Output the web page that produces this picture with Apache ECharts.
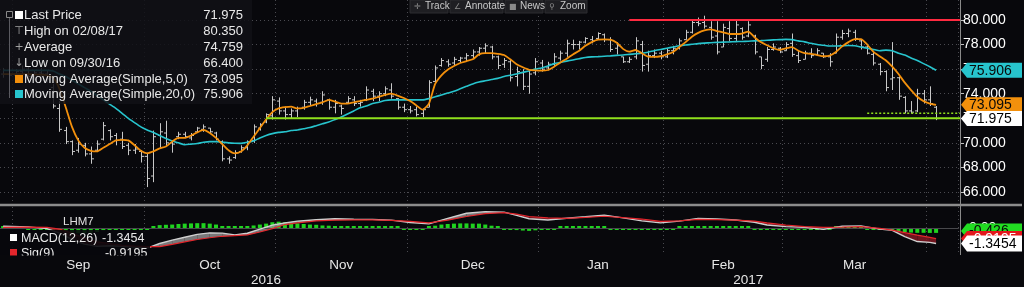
<!DOCTYPE html>
<html>
<head>
<meta charset="utf-8">
<script src="https://cdn.jsdelivr.net/npm/echarts@6/dist/echarts.min.js"></script>
<style>
html, body { margin: 0; padding: 0; background: #08080c; }
#chart { width: 1024px; height: 287px; }
</style>
</head>
<body>
<div id="chart"></div>
<script>
// trading days per month (the last three April days are empty room on the right)
const tradingDays = [
  ['2016-08', [29, 30, 31]],
  ['2016-09', [1, 2, 6, 7, 8, 9, 12, 13, 14, 15, 16, 19, 20, 21, 22, 23, 26, 27, 28, 29, 30]],
  ['2016-10', [3, 4, 5, 6, 7, 10, 11, 12, 13, 14, 17, 18, 19, 20, 21, 24, 25, 26, 27, 28, 31]],
  ['2016-11', [1, 2, 3, 4, 7, 8, 9, 10, 11, 14, 15, 16, 17, 18, 21, 22, 23, 25, 28, 29, 30]],
  ['2016-12', [1, 2, 5, 6, 7, 8, 9, 12, 13, 14, 15, 16, 19, 20, 21, 22, 23, 27, 28, 29, 30]],
  ['2017-01', [3, 4, 5, 6, 9, 10, 11, 12, 13, 17, 18, 19, 20, 23, 24, 25, 26, 27, 30, 31]],
  ['2017-02', [1, 2, 3, 6, 7, 8, 9, 10, 13, 14, 15, 16, 17, 21, 22, 23, 24, 27, 28]],
  ['2017-03', [1, 2, 3, 6, 7, 8, 9, 10, 13, 14, 15, 16, 17, 20, 21, 22, 23, 24, 27, 28, 29, 30, 31]],
  ['2017-04', [3, 4, 5, 6]]
];
const monthNames = ['Sep', 'Oct', 'Nov', 'Dec', 'Jan', 'Feb', 'Mar'];
const yearNames = ['2016', '2017'];

// LHM7 daily bars: [open, high, low, close]
const ohlc = [
  [75.6, 76.1, 75.3, 75.9], [75.9, 76.2, 75.4, 75.5], [75.5, 76.0, 75.2, 75.8], [75.8, 76.3, 75.5, 76.0],
  [76.0, 76.2, 75.3, 75.4], [75.4, 75.9, 75.1, 75.7], [75.7, 76.1, 75.4, 75.6], [75.6, 75.9, 74.9, 75.2],
  [74.5, 74.8, 72.8, 73.0], [72.8, 73.4, 70.9, 71.1], [71.0, 71.3, 69.9, 70.1], [70.1, 70.2, 69.0, 69.3],
  [69.4, 70.4, 69.2, 69.9], [69.8, 70.0, 68.9, 69.1], [69.1, 69.7, 68.3, 68.7], [69.4, 70.2, 69.3, 69.9],
  [70.3, 71.7, 70.2, 71.4], [71.0, 71.1, 70.2, 70.5], [70.6, 70.8, 69.8, 70.2], [70.3, 70.9, 69.5, 69.7],
  [69.8, 70.0, 69.0, 69.4], [69.4, 69.9, 69.1, 69.5], [69.3, 69.4, 68.4, 68.9], [68.9, 69.2, 66.4, 67.1],
  [67.3, 71.0, 66.8, 70.5], [70.6, 71.6, 69.6, 70.9], [70.8, 71.8, 69.7, 70.0], [70.0, 70.2, 69.2, 69.9],
  [70.5, 70.9, 70.3, 70.7], [70.7, 70.9, 70.4, 70.5], [70.4, 70.8, 70.2, 70.6], [70.9, 71.3, 70.8, 71.2],
  [71.1, 71.5, 70.9, 71.3], [71.2, 71.2, 70.8, 70.9], [70.8, 70.9, 70.2, 70.3], [70.1, 70.2, 68.5, 68.7],
  [68.7, 68.9, 68.3, 68.6], [68.8, 69.4, 68.7, 69.2], [69.3, 69.8, 69.2, 69.6], [69.6, 70.2, 69.4, 70.1],
  [70.2, 71.5, 70.0, 71.3], [71.2, 71.6, 71.0, 71.5], [71.7, 72.4, 71.6, 72.3], [72.2, 73.8, 71.9, 73.5],
  [73.4, 73.7, 72.3, 72.6], [72.6, 72.95, 71.9, 72.3], [72.3, 72.8, 72.0, 72.6], [72.6, 72.95, 72.1, 72.8],
  [72.9, 73.5, 72.7, 73.3], [73.3, 73.76, 73.0, 73.5], [73.4, 73.6, 72.95, 73.2], [73.3, 74.2, 73.1, 73.9],
  [73.5, 73.6, 72.7, 72.9], [72.9, 73.5, 72.4, 73.2], [73.0, 73.1, 72.3, 72.8], [73.3, 73.8, 73.2, 73.6],
  [73.5, 73.8, 73.0, 73.2], [73.2, 73.5, 72.95, 73.3], [73.5, 74.6, 73.4, 74.3], [74.2, 74.4, 73.4, 73.8],
  [73.8, 74.2, 73.4, 74.0], [74.0, 74.6, 73.8, 74.4], [74.3, 74.85, 73.6, 73.8], [73.6, 73.63, 72.7, 72.9],
  [72.9, 73.2, 72.5, 72.7], [72.7, 73.0, 72.4, 72.6], [72.7, 72.95, 72.15, 72.3], [72.4, 72.8, 72.1, 72.7],
  [72.9, 75.1, 72.9, 74.9], [75.0, 76.3, 74.95, 76.1], [76.3, 76.9, 76.2, 76.7], [76.6, 76.8, 76.2, 76.4],
  [76.5, 77.0, 76.3, 76.8], [76.7, 77.0, 76.5, 76.9], [76.9, 77.3, 76.6, 77.1], [77.1, 77.6, 76.9, 77.4],
  [77.4, 77.8, 77.1, 77.7], [77.7, 78.1, 77.3, 77.9], [77.8, 77.9, 76.8, 77.0], [77.0, 77.1, 76.0, 76.3],
  [76.4, 76.9, 76.1, 76.7], [76.6, 76.75, 75.0, 75.3], [75.4, 76.2, 74.6, 75.8], [75.7, 76.0, 74.3, 74.6],
  [74.6, 75.9, 74.0, 75.6], [75.7, 76.9, 75.5, 76.6], [76.5, 76.75, 75.8, 76.0], [76.1, 76.6, 75.9, 76.4],
  [76.4, 77.3, 76.2, 77.0], [76.9, 77.5, 76.7, 77.3], [77.3, 78.4, 77.0, 78.1], [78.0, 78.4, 77.6, 78.0],
  [78.0, 78.3, 77.6, 78.2], [78.2, 78.6, 78.1, 78.5], [78.4, 78.7, 78.1, 78.3], [78.5, 79.0, 78.4, 78.9],
  [78.8, 78.9, 78.2, 78.4], [78.4, 78.6, 77.4, 77.6], [77.7, 78.2, 77.2, 77.9], [77.0, 77.0, 76.5, 76.6],
  [76.6, 77.0, 76.5, 76.8], [77.0, 78.6, 76.8, 78.3], [78.0, 78.3, 75.8, 76.3], [76.4, 77.5, 75.8, 77.1],
  [77.1, 77.6, 76.9, 77.3], [77.3, 77.5, 76.8, 77.0], [77.0, 77.7, 76.9, 77.5], [77.5, 77.9, 77.2, 77.7],
  [77.7, 78.5, 77.6, 78.3], [78.4, 79.2, 78.4, 79.0], [79.0, 80.0, 78.9, 79.8], [79.8, 80.2, 79.5, 79.7],
  [79.8, 80.35, 79.3, 79.5], [79.4, 79.9, 78.4, 78.6], [78.7, 79.9, 77.2, 77.4], [77.8, 79.7, 77.8, 79.4],
  [79.3, 79.9, 78.3, 78.5], [78.5, 80.0, 78.3, 79.6], [79.3, 79.4, 78.4, 78.6], [78.7, 79.9, 78.6, 79.6],
  [78.7, 78.8, 77.2, 77.4], [77.0, 77.0, 76.0, 76.3], [76.8, 77.8, 76.6, 77.6], [77.6, 78.1, 77.5, 77.8],
  [77.7, 77.8, 77.3, 77.4], [77.5, 78.2, 77.5, 78.0], [78.1, 78.9, 77.0, 77.2], [77.1, 77.5, 76.5, 76.7],
  [76.8, 77.5, 76.8, 77.3], [77.3, 77.7, 76.9, 77.1], [77.2, 77.7, 77.15, 77.5], [77.3, 77.3, 76.9, 77.0],
  [77.0, 77.3, 76.2, 76.6], [77.3, 78.9, 77.3, 78.6], [78.6, 79.2, 78.4, 78.9], [78.9, 79.3, 78.6, 79.1],
  [79.0, 79.2, 78.3, 78.5], [78.3, 78.4, 77.6, 77.8], [77.8, 78.0, 77.2, 77.3], [77.2, 77.5, 76.3, 76.5],
  [76.4, 76.5, 75.5, 75.8], [75.8, 75.9, 74.2, 74.5], [75.2, 78.2, 74.3, 75.3], [75.3, 75.4, 73.5, 73.8],
  [73.7, 73.8, 72.4, 72.6], [72.6, 73.4, 72.4, 72.5], [72.6, 74.4, 72.5, 74.0], [74.0, 74.3, 73.2, 73.5],
  [73.5, 74.6, 73.0, 73.2], [72.9, 73.0, 71.85, 71.975]
];

// Moving Average(Simple,5,0), one value per bar
const ma5 = [
  75.6, 75.6, 75.6, 75.6, 75.6, 75.55, 75.55, 75.5, 75.3, 74.4,
  72.9, 71.3, 70.2, 69.6, 69.35, 69.3, 69.6, 69.9, 70.2, 70.25,
  70.2, 69.8, 69.35, 69.15, 69.3, 69.55, 69.7, 70.1, 70.4, 70.4,
  70.6, 70.85, 71.05, 70.8, 70.4, 69.9, 69.4, 69.15, 69.3, 69.8,
  70.5, 71.2, 71.9, 72.5, 72.8, 72.9, 72.95, 72.8, 72.85, 73.0,
  73.15, 73.3, 73.5, 73.35, 73.2, 73.2, 73.3, 73.4, 73.5, 73.6,
  73.75, 73.9, 74.0, 73.85, 73.65, 73.4, 73.05, 72.7, 73.2, 74.8,
  75.5, 75.95, 76.25, 76.5, 76.65, 76.8, 77.2, 77.3, 77.3, 77.25,
  77.15, 76.8, 76.4, 76.15, 75.95, 75.9, 75.88, 75.93, 76.2, 76.55,
  76.85, 77.2, 77.5, 77.9, 78.2, 78.4, 78.43, 78.4, 78.15, 77.65,
  77.42, 77.56, 77.3, 77.02, 77.0, 77.05, 77.2, 77.4, 77.8, 78.2,
  78.64, 78.95, 79.15, 79.24, 79.1, 79.0, 78.86, 78.86, 78.9, 79.05,
  78.6, 78.2, 77.95, 77.7, 77.56, 77.7, 77.8, 77.5, 77.3, 77.25,
  77.15, 77.05, 77.1, 77.4, 77.85, 78.2, 78.45, 78.45, 78.0, 77.4,
  77.05, 76.7, 76.2, 75.6, 74.9, 74.3, 73.75, 73.4, 73.2, 73.095
];

// Moving Average(Simple,20,0), one value per bar
const ma20 = [
  75.9, 75.9, 75.9, 75.9, 75.9, 75.9, 75.9, 75.9, 75.85, 75.6,
  75.4, 75.1, 74.8, 74.5, 74.2, 73.85, 73.5, 73.15, 72.8, 72.4,
  72.0, 71.65, 71.3, 71.05, 70.85, 70.6, 70.35, 70.15, 70.0, 69.85,
  69.9, 69.95, 70.05, 70.1, 70.1, 70.05, 70.0, 69.97, 69.96, 70.05,
  70.15, 70.4, 70.6, 70.75, 70.85, 70.9, 71.0, 71.05, 71.15, 71.25,
  71.4, 71.55, 71.7, 71.9, 72.1, 72.35, 72.6, 72.85, 73.0, 73.2,
  73.3, 73.45, 73.5, 73.5, 73.5, 73.5, 73.5, 73.5, 73.6, 73.75,
  73.9, 74.05, 74.2, 74.4, 74.6, 74.8, 74.95, 75.05, 75.15, 75.25,
  75.4, 75.5, 75.6, 75.75, 75.85, 76.0, 76.1, 76.25, 76.45, 76.55,
  76.65, 76.75, 76.85, 76.95, 77.0, 77.02, 77.05, 77.08, 77.12, 77.15,
  77.2, 77.25, 77.3, 77.38, 77.5, 77.6, 77.7, 77.8, 77.9, 77.97,
  78.02, 78.08, 78.12, 78.15, 78.18, 78.2, 78.22, 78.24, 78.25, 78.27,
  78.3, 78.32, 78.35, 78.38, 78.4, 78.42, 78.4, 78.3, 78.22, 78.1,
  78.0, 77.95, 77.88, 77.88, 77.9, 77.92, 77.9, 77.8, 77.7, 77.6,
  77.5, 77.55, 77.5, 77.3, 77.15, 76.9, 76.7, 76.45, 76.2, 75.906
];

// MACD(12,26) and Sig(9), read at these bars
const macdIdx = [0, 4, 7, 9, 11, 13, 15, 17, 19, 21, 23, 25, 27, 29, 31, 33, 35, 37, 39, 41,
  43, 45, 47, 50, 53, 56, 59, 62, 65, 68, 71, 74, 77, 80, 82, 84, 87, 90, 93, 96,
  99, 102, 105, 108, 111, 114, 117, 120, 122, 125, 128, 131, 134, 137, 140, 142, 144, 146, 148, 149];
const macdLine = [0.15, 0.1, -0.05, -0.45, -1.0, -1.4, -1.6, -1.55, -1.6, -1.65,
  -1.75, -1.35, -1.05, -0.8, -0.55, -0.42, -0.45, -0.6, -0.46, -0.1,
  0.25, 0.45, 0.6, 0.72, 0.8, 0.76, 0.75, 0.68, 0.48, 0.36,
  0.84, 1.28, 1.42, 1.38, 1.1, 0.8, 0.7, 0.85, 0.98, 1.12,
  0.88, 0.62, 0.45, 0.6, 0.84, 0.78, 0.7, 0.5, 0.26, 0.12,
  0.05, -0.12, 0.15, 0.17, -0.1, -0.2, -0.75, -1.18, -1.25, -1.3454];
const sigLine = [0.05, 0.08, 0.05, -0.1, -0.45, -0.9, -1.2, -1.35, -1.5, -1.57,
  -1.62, -1.62, -1.42, -1.2, -1.0, -0.85, -0.72, -0.66, -0.6, -0.35,
  -0.05, 0.3, 0.45, 0.62, 0.68, 0.7, 0.7, 0.66, 0.58, 0.45,
  0.68, 1.0, 1.25, 1.33, 1.2, 1.0, 0.88, 0.84, 0.92, 1.02,
  0.9, 0.78, 0.58, 0.62, 0.75, 0.72, 0.68, 0.6, 0.45, 0.26,
  0.12, 0.06, 0.08, 0.12, -0.03, -0.18, -0.4, -0.62, -0.82, -0.9195];
// MACD histogram, one value per bar
const macdHist = [
  0.05, 0.04, 0.02, 0.0, -0.02, -0.03, -0.05, -0.08, -0.15, -0.25,
  -0.35, -0.42, -0.45, -0.45, -0.42, -0.35, -0.2, -0.12, -0.08, -0.06,
  -0.05, -0.06, -0.08, -0.12, 0.12, 0.25, 0.28, 0.3, 0.35, 0.38,
  0.4, 0.42, 0.42, 0.38, 0.3, 0.15, 0.05, 0.03, 0.05, 0.12,
  0.22, 0.3, 0.38, 0.5, 0.55, 0.5, 0.45, 0.4, 0.35, 0.3,
  0.28, 0.22, 0.2, 0.12, 0.06, 0.05, 0.04, 0.05, 0.05, 0.05,
  0.04, 0.04, 0.03, 0.0, -0.05, -0.12, -0.15, -0.12, 0.05, 0.2,
  0.3, 0.35, 0.38, 0.4, 0.4, 0.38, 0.38, 0.3, 0.2, 0.08,
  -0.04, -0.12, -0.18, -0.22, -0.25, -0.2, -0.12, -0.06, -0.03, 0.02,
  0.05, 0.08, 0.1, 0.1, 0.08, 0.06, 0.02, -0.05, -0.1, -0.15,
  -0.15, -0.12, -0.12, -0.12, -0.12, -0.1, -0.08, -0.04, 0.0, 0.05,
  0.12, 0.15, 0.15, 0.12, 0.06, 0.05, 0.03, 0.02, 0.02, 0.02,
  -0.05, -0.12, -0.14, -0.16, -0.14, -0.12, -0.1, -0.1, -0.1, -0.08,
  -0.07, -0.06, -0.05, 0.02, 0.06, 0.08, 0.08, 0.04, -0.02, -0.06,
  -0.1, -0.15, -0.2, -0.28, -0.35, -0.4, -0.42, -0.42, -0.43, -0.426
];

// horizontal level lines: value and the bar where each starts
const levelValues = [80, 72, 72.4];
const levelStart = [100, 42, 138];

const legendRows = [
  ['Last Price', '71.975'],
  ['High on 02/08/17', '80.350'],
  ['Average', '74.759'],
  ['Low on 09/30/16', '66.400'],
  ['Moving Average(Simple,5,0)', '73.095'],
  ['Moving Average(Simple,20,0)', '75.906']
];
const lastPrice = 71.975;
const lastMacd = -1.3454, lastSig = -0.9195, lastHist = -0.426;

const FONT = '"Liberation Sans", Arial, sans-serif';
const BG = '#08080c';

// categories and month / year positions
const cats = [];
const monthEnds = [];
tradingDays.forEach(([ym, days]) => {
  days.forEach(d => cats.push(ym + '-' + String(d).padStart(2, '0')));
  monthEnds.push(cats.length - 1);
});
const gridEnds = monthEnds.slice(0, -1);
const gridSet = new Set(gridEnds);
const monthLabelAt = new Map();
for (let k = 0; k < monthNames.length; k++) {
  monthLabelAt.set(Math.floor((gridEnds[k] + gridEnds[k + 1]) / 2 - 0.5), monthNames[k]);
}
const yearEnd = monthEnds[4]; // last day of 2016
const yearLabelAt = new Map([
  [Math.floor(yearEnd / 2 - 0.5), yearNames[0]],
  [Math.floor((yearEnd + cats.length) / 2 - 0.5), yearNames[1]]
]);

const ohlcData = ohlc.map((d, i) => [i, d[0], d[1], d[2], d[3]]);

const bandData = [];
for (let k = 0; k < macdIdx.length - 1; k++) {
  bandData.push([macdIdx[k], macdLine[k], sigLine[k], macdIdx[k + 1], macdLine[k + 1], sigLine[k + 1]]);
}

function ohlcItem(params, api) {
  const i = api.value(0);
  const o = api.coord([i, api.value(1)]);
  const h = api.coord([i, api.value(2)]);
  const l = api.coord([i, api.value(3)]);
  const c = api.coord([i, api.value(4)]);
  const x = Math.round(h[0]) + 0.5;
  const style = { stroke: '#c8c8c8', lineWidth: 1 };
  return {
    type: 'group',
    children: [
      { type: 'line', shape: { x1: x, y1: h[1], x2: x, y2: l[1] }, style },
      { type: 'line', shape: { x1: x - 2.5, y1: o[1], x2: x, y2: o[1] }, style },
      { type: 'line', shape: { x1: x, y1: c[1], x2: x + 2.5, y2: c[1] }, style }
    ]
  };
}

// fill between MACD and signal: grey where MACD is above, dark red where below
function bandItem(params, api) {
  const x0 = api.value(0), m0 = api.value(1), s0 = api.value(2);
  const x1 = api.value(3), m1 = api.value(4), s1 = api.value(5);
  const up = 'rgba(150,150,150,0.8)', down = 'rgba(130,22,34,0.85)';
  const P = (x, v) => api.coord([x, v]);
  const d0 = m0 - s0, d1 = m1 - s1;
  if (d0 * d1 < 0) {
    const t = d0 / (d0 - d1);
    const xc = x0 + t * (x1 - x0), vc = m0 + t * (m1 - m0);
    return {
      type: 'group',
      children: [
        { type: 'polygon', shape: { points: [P(x0, m0), P(xc, vc), P(x0, s0)] }, style: { fill: d0 > 0 ? up : down } },
        { type: 'polygon', shape: { points: [P(xc, vc), P(x1, m1), P(x1, s1)] }, style: { fill: d1 > 0 ? up : down } }
      ]
    };
  }
  return {
    type: 'polygon',
    shape: { points: [P(x0, m0), P(x1, m1), P(x1, s1), P(x0, s0)] },
    style: { fill: (d0 + d1) >= 0 ? up : down }
  };
}

const dotted = { color: '#4a4a50', type: [1, 3], width: 1 };

const chart = echarts.init(document.getElementById('chart'));
chart.setOption({
  animation: false,
  backgroundColor: BG,
  grid: [
    { left: 0, width: 958, top: 0, height: 203, outerBoundsMode: 'none' },
    { left: 0, width: 958, top: 20, height: 172, outerBoundsMode: 'none' },
    { left: 0, width: 958, top: 207, height: 48, outerBoundsMode: 'none' }
  ],
  xAxis: [
    { type: 'category', gridIndex: 0, data: cats, axisLine: { show: false }, axisTick: { show: false },
      axisLabel: { show: false }, splitLine: { show: true, interval: i => gridSet.has(i), lineStyle: dotted } },
    { type: 'category', gridIndex: 1, data: cats, show: false },
    { type: 'category', gridIndex: 2, data: cats,
      axisLine: { lineStyle: { color: '#8a8a8a', width: 1 } },
      axisTick: { interval: i => gridSet.has(i), length: 3, lineStyle: { color: '#8a8a8a' } },
      axisLabel: { interval: i => monthLabelAt.has(i), formatter: (v, i) => monthLabelAt.get(i) || '',
        color: '#e6e6e6', fontSize: 13.5, fontFamily: FONT, margin: 3 },
      splitLine: { show: true, interval: i => gridSet.has(i), lineStyle: dotted } },
    { type: 'category', gridIndex: 2, data: cats, position: 'bottom', offset: 17,
      axisLine: { show: false },
      axisTick: { interval: i => i === yearEnd, length: 15, lineStyle: { color: '#8a8a8a' } },
      axisLabel: { interval: i => yearLabelAt.has(i), formatter: (v, i) => yearLabelAt.get(i) || '',
        color: '#e6e6e6', fontSize: 13.5, fontFamily: FONT, margin: 1 },
      splitLine: { show: false } }
  ],
  yAxis: [
    { type: 'value', gridIndex: 0, min: 0, max: 1, show: false },
    { type: 'value', gridIndex: 1, position: 'right', offset: 2, min: 66, max: 80, interval: 2,
      axisLine: { show: false },
      axisTick: { show: true, length: 4, lineStyle: { color: '#c0c0c0' } },
      axisLabel: { color: '#ffffff', fontSize: 14, fontFamily: FONT, margin: 3, showMinLabel: true, showMaxLabel: true,
        formatter: v => v.toFixed(3) },
      splitLine: { show: true, lineStyle: dotted } },
    { type: 'value', gridIndex: 2, min: -2.348, max: 1.826, show: false, splitLine: { show: false } }
  ],
  series: [
    { type: 'custom', name: 'Last Price', xAxisIndex: 1, yAxisIndex: 1, data: ohlcData,
      encode: { x: 0, y: [1, 2, 3, 4] }, renderItem: ohlcItem, clip: false, z: 3 },
    { type: 'line', name: 'MA20', xAxisIndex: 1, yAxisIndex: 1, data: ma20, showSymbol: false, smooth: 0.2,
      lineStyle: { color: '#27c4cd', width: 1.6 }, z: 4 },
    { type: 'line', name: 'MA5', xAxisIndex: 1, yAxisIndex: 1, data: ma5, showSymbol: false, smooth: 0.2,
      lineStyle: { color: '#f3900c', width: 1.8 }, z: 5 },
    { type: 'bar', name: 'Hist', xAxisIndex: 2, yAxisIndex: 2, data: macdHist, barWidth: 4, barMinHeight: 2,
      itemStyle: { color: '#1fd31f' }, z: 3,
      markLine: { silent: true, symbol: 'none', label: { show: false },
        lineStyle: { color: '#48484c', type: 'solid', width: 1 }, data: [{ yAxis: 0 }] } },
    { type: 'custom', name: 'Band', xAxisIndex: 2, yAxisIndex: 2, data: bandData,
      encode: { x: [0, 3], y: [1, 2, 4, 5] }, renderItem: bandItem, z: 4 },
    { type: 'line', name: 'MACD', xAxisIndex: 2, yAxisIndex: 2, data: macdIdx.map((x, k) => [x, macdLine[k]]),
      showSymbol: false, lineStyle: { color: '#cfcfcf', width: 1.4 }, z: 5 },
    { type: 'line', name: 'Sig', xAxisIndex: 2, yAxisIndex: 2, data: macdIdx.map((x, k) => [x, sigLine[k]]),
      showSymbol: false, lineStyle: { color: '#e3262c', width: 1.2 }, z: 6 }
  ]
});

// overlays positioned through the chart's own scales
const py = v => chart.convertToPixel({ yAxisIndex: 1 }, v);
const my = v => chart.convertToPixel({ yAxisIndex: 2 }, v);
const px = i => chart.convertToPixel({ xAxisIndex: 1 }, i);
const AXIS_X = 960;

function tag(y, text, bg, fg, z, h) {
  const hh = (h || 15) / 2;
  return {
    type: 'group', x: AXIS_X + 1, y: y,
    children: [
      { type: 'polygon', z: z, shape: { points: [[0, 0], [6, -hh], [61, -hh], [61, hh], [6, hh]] }, style: { fill: bg } },
      { type: 'text', z: z + 1, x: 8, y: 0.5, style: { text: text, fill: fg, font: '14px ' + FONT, verticalAlign: 'middle' } }
    ]
  };
}

const g = [];
// level lines
const levelColors = ['#ff2a40', '#8fe01c', '#8fe01c'];
levelValues.forEach((v, k) => {
  g.push({ type: 'line', z: 6, shape: { x1: px(levelStart[k]), y1: py(v), x2: AXIS_X, y2: py(v) },
    style: { stroke: levelColors[k], lineWidth: k === 2 ? 1.5 : 2, lineDash: k === 2 ? [2, 2] : null } });
});
// panel frame lines
g.push({ type: 'line', z: 20, shape: { x1: AXIS_X + 0.5, y1: 0, x2: AXIS_X + 0.5, y2: 255 }, style: { stroke: '#8a8a8a', lineWidth: 1 } });
g.push({ type: 'line', z: 20, shape: { x1: 0, y1: 205, x2: 1022, y2: 205 }, style: { stroke: '#8c8c8c', lineWidth: 2.5 } });

// price legend box
g.push({ type: 'rect', z: 30, shape: { x: 0, y: 0, width: 252, height: 104 }, style: { fill: 'rgba(16,16,22,0.86)' } });
g.push({ type: 'rect', z: 31, shape: { x: 6.5, y: 11.5, width: 6, height: 6 }, style: { fill: 'none', stroke: '#888', lineWidth: 1 } });
g.push({ type: 'line', z: 31, shape: { x1: 9.5, y1: 18, x2: 9.5, y2: 98 }, style: { stroke: '#5a5a60', lineWidth: 1 } });
const rowY = [15, 31, 47, 63, 79, 94];
legendRows.forEach((r, k) => {
  g.push({ type: 'text', z: 32, x: 24, y: rowY[k], style: { text: r[0], fill: '#e8e8e8', font: '13px ' + FONT, verticalAlign: 'middle' } });
  g.push({ type: 'text', z: 32, x: 243, y: rowY[k], style: { text: r[1], fill: '#e8e8e8', font: '13px ' + FONT, verticalAlign: 'middle', align: 'right' } });
});
g.push({ type: 'rect', z: 32, shape: { x: 15, y: 11, width: 8, height: 8 }, style: { fill: '#ffffff' } });
g.push({ type: 'text', z: 32, x: 19, y: 31, style: { text: '⊤', fill: '#a0a0a0', font: '11px "DejaVu Sans"', verticalAlign: 'middle', align: 'center' } });
g.push({ type: 'text', z: 32, x: 19, y: 47, style: { text: '+', fill: '#a0a0a0', font: '11px "DejaVu Sans"', verticalAlign: 'middle', align: 'center' } });
g.push({ type: 'text', z: 32, x: 19, y: 63, style: { text: '↓', fill: '#a0a0a0', font: '11px "DejaVu Sans"', verticalAlign: 'middle', align: 'center' } });
g.push({ type: 'rect', z: 32, shape: { x: 15, y: 75, width: 8, height: 8 }, style: { fill: '#f3900c' } });
g.push({ type: 'rect', z: 32, shape: { x: 15, y: 90, width: 8, height: 8 }, style: { fill: '#27c4cd' } });

// toolbar
const tools = [['✛', 'Track', 410, 38], ['∠', 'Annotate', 450, 53], ['■', 'News', 505, 38], ['⚲', 'Zoom', 545, 42]];
tools.forEach(t => {
  g.push({ type: 'rect', z: 40, shape: { x: t[2], y: 0, width: t[3], height: 13 }, style: { fill: '#1e1e22', stroke: '#2c2c30', lineWidth: 1 } });
  g.push({ type: 'text', z: 41, x: t[2] + 4, y: 6.5, style: { text: t[0], fill: '#8a8a8a', font: '8px "DejaVu Sans"', verticalAlign: 'middle' } });
  g.push({ type: 'text', z: 41, x: t[2] + 15, y: 6.5, style: { text: t[1], fill: '#c8c8c8', font: '10px ' + FONT, verticalAlign: 'middle' } });
});

// MACD legend
g.push({ type: 'rect', z: 30, shape: { x: 0, y: 230, width: 150, height: 25 }, style: { fill: 'rgba(8,8,12,0.9)' } });
g.push({ type: 'text', z: 32, x: 63, y: 222, style: { text: 'LHM7', fill: '#e0e0e0', font: '11.5px ' + FONT, verticalAlign: 'middle' } });
g.push({ type: 'rect', z: 32, shape: { x: 10, y: 234, width: 7, height: 7 }, style: { fill: '#ffffff' } });
g.push({ type: 'text', z: 32, x: 21, y: 239, style: { text: 'MACD(12,26)', fill: '#e8e8e8', font: '12.5px ' + FONT, verticalAlign: 'middle' } });
g.push({ type: 'text', z: 32, x: 102, y: 239, style: { text: String(lastMacd), fill: '#e8e8e8', font: '12.5px ' + FONT, verticalAlign: 'middle' } });
g.push({ type: 'rect', z: 32, shape: { x: 10, y: 249, width: 7, height: 7 }, style: { fill: '#e3262c' } });
g.push({ type: 'text', z: 32, x: 21, y: 254, style: { text: 'Sig(9)', fill: '#e8e8e8', font: '12.5px ' + FONT, verticalAlign: 'middle' } });
g.push({ type: 'text', z: 32, x: 105, y: 254, style: { text: String(lastSig), fill: '#e8e8e8', font: '12.5px ' + FONT, verticalAlign: 'middle' } });
g.push({ type: 'rect', z: 33, shape: { x: 0, y: 255.6, width: 62, height: 7 }, style: { fill: BG } });
g.push({ type: 'rect', z: 33, shape: { x: 96, y: 255.6, width: 56, height: 7 }, style: { fill: BG } });

// right-hand value tags
g.push({ type: 'text', z: 44, x: AXIS_X + 9, y: my(0), style: { text: '0.00', fill: '#ffffff', font: '14px ' + FONT, verticalAlign: 'middle' } });
g.push(tag(py(ma20[ma20.length - 1]), ma20[ma20.length - 1].toFixed(3), '#27c4cd', '#0a0a0a', 45));
g.push(tag(py(ma5[ma5.length - 1]), ma5[ma5.length - 1].toFixed(3), '#f3900c', '#0a0a0a', 47));
g.push(tag(py(lastPrice), lastPrice.toFixed(3), '#ffffff', '#000000', 49));
g.push(tag(my(lastHist) - 2, lastHist.toFixed(3), '#22dd22', '#0a0a0a', 45));
g.push(tag(my(lastSig), lastSig.toFixed(4), '#e3161c', '#ffffff', 47));
g.push(tag(my(lastMacd), lastMacd.toFixed(4), '#ffffff', '#000000', 49, 16));

chart.setOption({ graphic: g });
</script>
</body>
</html>
